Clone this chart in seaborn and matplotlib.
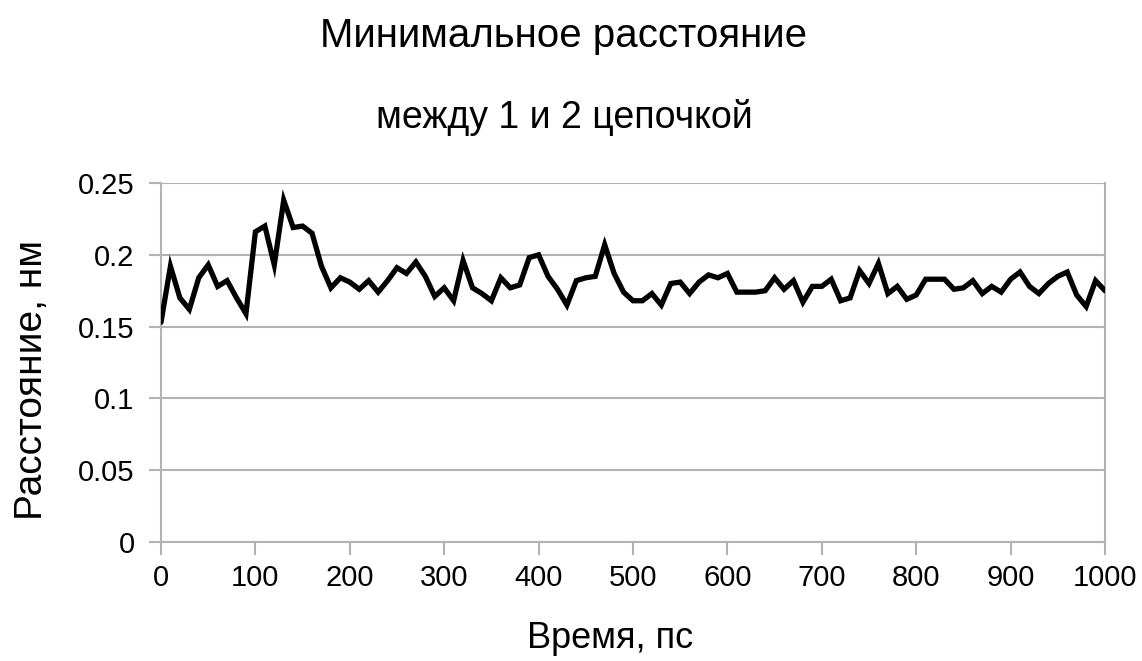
import numpy as np
import pandas as pd
import matplotlib
matplotlib.use("Agg")
import matplotlib.pyplot as plt
import seaborn as sns

# Time points, ps
time_ps = list(range(0, 1001, 10))

# Minimum distance between chain 1 and chain 2, nm
min_dist_nm = [
    0.153, 0.192, 0.170, 0.162, 0.184, 0.193, 0.178, 0.182, 0.170, 0.159,
    0.216, 0.220, 0.193, 0.238, 0.219, 0.220, 0.215, 0.192, 0.177, 0.184,
    0.181, 0.176, 0.182, 0.174, 0.182, 0.191, 0.187, 0.195, 0.185, 0.171,
    0.177, 0.168, 0.196, 0.177, 0.173, 0.168, 0.184, 0.177, 0.179, 0.198,
    0.200, 0.185, 0.176, 0.165, 0.182, 0.184, 0.185, 0.207, 0.187, 0.174,
    0.168, 0.168, 0.173, 0.165, 0.180, 0.181, 0.173, 0.181, 0.186, 0.184,
    0.187, 0.174, 0.174, 0.174, 0.175, 0.184, 0.176, 0.182, 0.167, 0.178,
    0.178, 0.183, 0.168, 0.170, 0.189, 0.180, 0.194, 0.173, 0.178, 0.169,
    0.172, 0.183, 0.183, 0.183, 0.176, 0.177, 0.182, 0.173, 0.178, 0.174,
    0.183, 0.188, 0.178, 0.173, 0.180, 0.185, 0.188, 0.172, 0.164, 0.182,
    0.175,
]

x_ticks = [0, 100, 200, 300, 400, 500, 600, 700, 800, 900, 1000]
y_ticks = [0, 0.05, 0.1, 0.15, 0.2, 0.25]
y_tick_labels = ["0", "0.05", "0.1", "0.15", "0.2", "0.25"]

title_line1 = "Минимальное расстояние"
title_line2 = "между 1 и 2 цепочкой"
x_label = "Время, пс"
y_label = "Расстояние, нм"

sns.set_style("white")
plt.rcParams["font.family"] = ["Liberation Sans", "DejaVu Sans"]

grid_color = "#b3b3b3"

df = pd.DataFrame({"t": time_ps, "d": min_dist_nm})

fig = plt.figure(figsize=(11.42, 6.61), dpi=100)
ax = fig.add_axes([161 / 1142, 1 - 542 / 661, (1105 - 161) / 1142, (542 - 183) / 661])

sns.lineplot(data=df, x="t", y="d", ax=ax, color="black", linewidth=3.8,
             solid_joinstyle="miter", zorder=3)

ax.set_xlim(0, 1000)
ax.set_ylim(0, 0.25)
ax.set_xticks(x_ticks)
ax.set_xticklabels([str(v) for v in x_ticks])
ax.set_yticks(y_ticks)
ax.set_yticklabels(y_tick_labels)
ax.set_xlabel("")
ax.set_ylabel("")

ax.yaxis.grid(True, color=grid_color, linewidth=1.5)
ax.xaxis.grid(False)
for side in ["left", "bottom", "right"]:
    ax.spines[side].set_visible(True)
    ax.spines[side].set_color(grid_color)
    ax.spines[side].set_linewidth(1.5)
ax.spines["top"].set_visible(False)

ax.tick_params(axis="both", which="major", direction="out", length=9,
               width=1.5, color=grid_color, labelsize=21, labelcolor="black")
ax.tick_params(axis="x", bottom=True, pad=7)
ax.tick_params(axis="y", left=True, pad=10)

fig.text(564 / 1142, 1 - 36 / 661, title_line1, ha="center", va="center",
         fontsize=29, color="black")
fig.text(564 / 1142, 1 - 118 / 661, title_line2, ha="center", va="center",
         fontsize=27, color="black")
fig.text(610 / 1142, 1 - 638 / 661, x_label, ha="center", va="center",
         fontsize=26, color="black")
fig.text(32 / 1142, 1 - 380 / 661, y_label, ha="center", va="center",
         rotation=90, fontsize=28, color="black")

fig.savefig("out.png", dpi=100, facecolor="white")
